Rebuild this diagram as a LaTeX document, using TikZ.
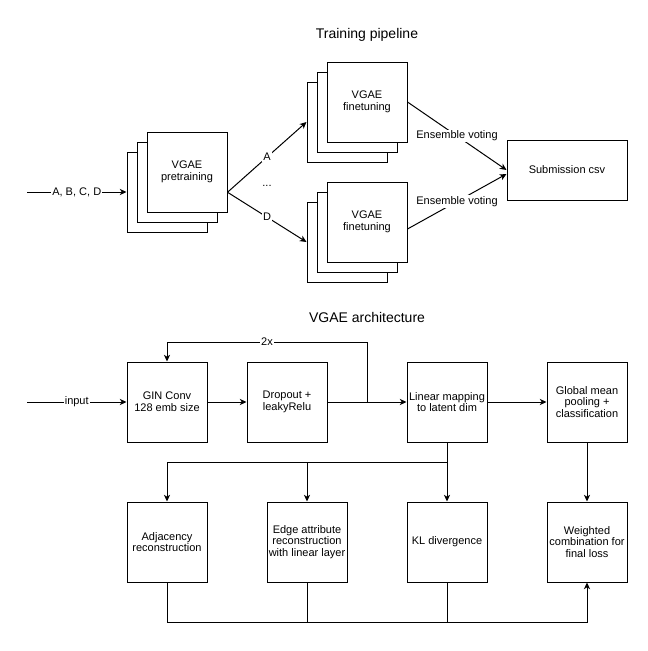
\documentclass[tikz,border=0pt]{standalone}
\usepackage{fontspec}
\setmainfont{Liberation Sans}
\usepackage{tikz}
\usetikzlibrary{arrows.meta,calc}
\usetikzlibrary{positioning}

\tikzset{
  box/.style={draw, fill=white, line width=0.75pt, minimum width=60pt, minimum height=60pt,
    inner sep=1pt, align=center, font=\fontsize{8.25}{8.8}\selectfont},
  lbl/.style={fill=white, inner sep=0.8pt, font=\fontsize{8.25}{8.8}\selectfont},
  ttl/.style={font=\fontsize{10.5}{12}\selectfont},
  arr/.style={-{Stealth[length=5pt,width=4.6pt,inset=1.4pt]}},
}

\begin{document}
\begin{tikzpicture}[x=0.75pt,y=0.75pt,yscale=-1,xscale=1,line width=0.75pt]
\useasboundingbox (0,0) rectangle (648,651);

%Text: titles
\node[ttl] (ttrain) at (367,35) {Training pipeline};
\node[ttl] (tarch) at (367,317) {VGAE architecture};

%Shape: stack, pretraining
\node[box] (pt3) at (167,192) {};
\node[box] (pt2) at (177,182) {};
\node[box] (pt1) at (187,172) {VGAE\\pretraining};

%Shape: stack, finetuning (top)
\node[box] (fa3) at (347,122) {};
\node[box] (fa2) at (357,112) {};
\node[box] (fa1) at (367,102) {VGAE\\finetuning};

%Shape: stack, finetuning (bottom)
\node[box] (fb3) at (347,242) {};
\node[box] (fb2) at (357,232) {};
\node[box] (fb1) at (367,222) {VGAE\\finetuning};

%Shape: Rectangle
\node[box, minimum width=90pt, minimum height=45pt] (sub) at (567,170) {Submission csv};

%Straight Lines: pipeline
\coordinate (inA) at (27,192);
\coordinate (ptout) at ($(pt1.south east)!0.25!(pt1.north east)$);
\draw[arr] (inA) -- node[lbl] {A, B, C, D} (pt3);
\draw[arr] (ptout) -- node[lbl] {A} (fa3.west);
\draw[arr] (ptout) -- node[lbl] {D} (fb3.west);
\node[lbl] (dots) at (267,186) {...};
\draw[arr] (fa1.east) -- node[lbl] {Ensemble voting} (sub.west);
\draw[arr] ($(fb1.east)+(0,7)$) -- node[lbl] {Ensemble voting} ($(sub.west)+(0,4)$);

%Shape: architecture, first row
\node[box] (gin) at (167,402) {GIN Conv\\128 emb size};
\node[box] (drop) at (287,402) {Dropout +\\leakyRelu};
\node[box] (lin) at (447,402) {Linear mapping\\to latent dim};
\node[box] (gmp) at (587,402) {Global mean\\pooling +\\classification};

%Shape: architecture, second row
\node[box] (adj) at (167,542) {Adjacency\\reconstruction};
\node[box] (edge) at (307,542) {Edge attribute\\reconstruction\\with linear layer};
\node[box] (kl) at (447,542) {KL divergence};
\node[box] (wl) at (587,542) {Weighted\\combination for\\final loss};

%Straight Lines: architecture
\coordinate (inB) at (27,402);
\draw[arr] (inB) -- node[lbl] {input} (gin);
\draw[arr] (gin) -- (drop);
\draw[arr] (drop) -- (lin);
\draw[arr] ($(drop.east)!0.5!(lin.west)$) -- ++(0,-60) -| node[pos=0.25,lbl] {2x} (gin.north);
\draw[arr] (lin) -- (gmp);
\draw[arr] (gmp) -- (wl);

\coordinate (split) at ($(lin.south)+(0,20)$);
\draw (lin.south) -- (split);
\draw[arr] (split) -- (kl.north);
\draw[arr] (split) -| (adj.north);
\draw[arr] (split -| edge.north) -- (edge.north);

\coordinate (join) at ($(wl.south)+(0,40)$);
\draw[arr] (adj.south) |- (join) -- (wl.south);
\draw (edge.south) -- (edge.south |- join);
\draw (kl.south) -- (kl.south |- join);

\end{tikzpicture}
\end{document}
